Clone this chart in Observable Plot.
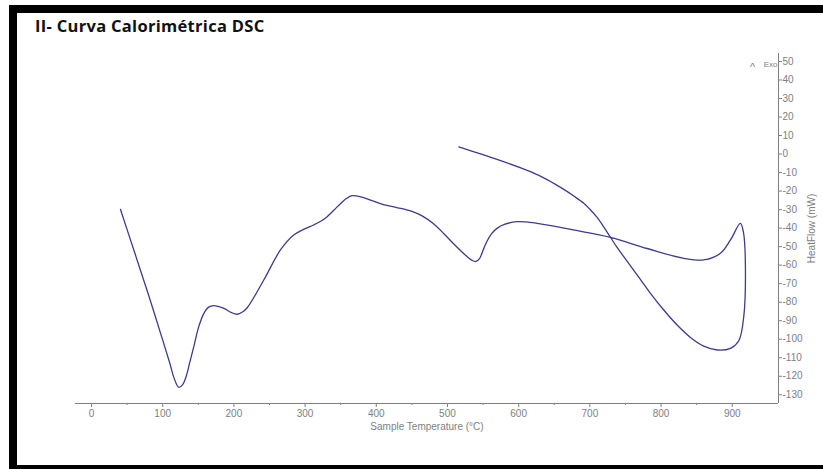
<!DOCTYPE html>
<html><head><meta charset="utf-8">
<script src="https://cdn.jsdelivr.net/npm/d3@7"></script>
<script src="https://cdn.jsdelivr.net/npm/@observablehq/plot@0.6"></script>
<style>
html,body{margin:0;padding:0;background:#fff;}
#wrap{position:relative;width:823px;height:469px;overflow:hidden;font-family:"Liberation Sans",Arial,sans-serif;}
#frame{position:absolute;left:9px;top:5px;width:830px;height:452px;border-left:8px solid #000;border-top:8px solid #000;border-bottom:4px solid #000;}
#title{position:absolute;left:35px;top:16px;font-family:"Open Sans",sans-serif;font-weight:700;font-size:16.5px;letter-spacing:0.3px;line-height:20px;color:#111;white-space:nowrap;}
#chart{position:absolute;left:0;top:40px;}
</style>
</head><body>
<div id="wrap">
  <div id="frame"></div>
  <div id="title">II- Curva Calorimétrica DSC</div>
  <div id="chart"></div>
</div>
<script>
// Sample temperature (°C), in drawing order (heating then cooling loop)
const temperature = [40.7, 60, 80, 100, 110, 116, 122.6, 128, 133, 138, 143.7, 150, 157.8, 164, 171.8, 185.8, 196, 204.6, 212, 218.7, 242, 265.4, 284, 300, 312, 322, 331, 340, 349.7, 358, 366, 380, 395, 410, 430, 450, 465, 480, 495, 510, 525, 535, 540, 545, 550, 555, 562, 570, 580, 598, 626, 677, 729, 780.5, 832, 860, 883.4, 897.5, 911.5, 916, 918.5, 916.2, 909.2, 897.5, 878.8, 860, 841.3, 822.6, 803.8, 785.1, 766.4, 747.6, 738, 729, 719, 710.2, 700, 691.5, 678, 663.4, 640, 616.6, 569.8, 515.9];
// Heat flow (mW)
const heatFlow = [-29.9, -52.5, -76, -100.5, -113, -121, -126, -124.5, -120, -112.5, -104, -94, -86, -82.8, -81.8, -83.3, -85.5, -86.5, -85.3, -83, -68, -51.8, -43.7, -40.3, -38.3, -36.3, -33.8, -30.5, -26.8, -24, -22.5, -23.3, -25.3, -27.3, -29, -31, -33.5, -37.5, -43, -49, -54.5, -57.5, -58, -56.5, -52, -47.5, -43, -40, -38, -36.5, -37.4, -41, -45, -51, -56.3, -57.2, -53.6, -46.4, -37.4, -42.8, -60, -87.8, -100.8, -104.9, -105.8, -103.7, -99, -92.3, -84.2, -75.2, -65.3, -55.4, -50.3, -45, -39, -34.2, -29.8, -26.6, -22.8, -19.1, -13.8, -9.5, -2.9, 3.9];

const xTicks = [0, 100, 200, 300, 400, 500, 600, 700, 800, 900];
const xMinorTicks = [50, 150, 250, 350, 450, 550, 650, 750, 850];
const yTicks = [50, 40, 30, 20, 10, 0, -10, -20, -30, -40, -50, -60, -70, -80, -90, -100, -110, -120, -130];
const xDomain = [-22.5, 965];
const yDomain = [-134.7, 54.3];
const xLabel = "Sample Temperature (°C)";
const yLabel = "HeatFlow (mW)";
const exoLabel = "Exo";

const data = temperature.map((t, i) => ({t, h: heatFlow[i]}));

const axisColor = "#808080";
const chart = Plot.plot({
  width: 823,
  height: 429,
  marginLeft: 75,
  marginRight: 45,
  marginTop: 13,
  marginBottom: 66,
  style: {fontFamily: "'Liberation Sans', Arial, sans-serif", background: "transparent", fontSize: "10px"},
  x: {domain: xDomain},
  y: {domain: yDomain},
  marks: [
    Plot.ruleY([yDomain[0]], {stroke: axisColor}),
    Plot.ruleX([xDomain[1]], {stroke: axisColor}),
    Plot.axisX({ticks: xTicks, tickSize: 4, tickPadding: 2, fontSize: 10, color: axisColor,
      tickFormat: d => String(d), label: xLabel, labelAnchor: "center", labelOffset: 26, labelArrow: "none"}),
    Plot.axisX({ticks: xMinorTicks, tickSize: 2, tickFormat: () => "", color: axisColor, label: null}),
    Plot.axisY({anchor: "right", ticks: yTicks, tickSize: 3, tickPadding: 1, fontSize: 10, color: axisColor,
      tickFormat: d => String(d), label: yLabel, labelAnchor: "center", labelOffset: 36, labelArrow: "none"}),
    Plot.text([exoLabel], {text: d => d, frameAnchor: "top-right", textAnchor: "end", dx: -1, dy: 8, fontSize: 8, fill: axisColor}),
    Plot.text(["^"], {text: d => d, frameAnchor: "top-right", textAnchor: "middle", dx: -26, dy: 10, fontSize: 11, fill: axisColor}),
    Plot.line(data, {x: "t", y: "h", curve: "catmull-rom", stroke: "#3c3c8c", strokeWidth: 1.3})
  ]
});
document.getElementById("chart").appendChild(chart);
</script>
</body></html>
